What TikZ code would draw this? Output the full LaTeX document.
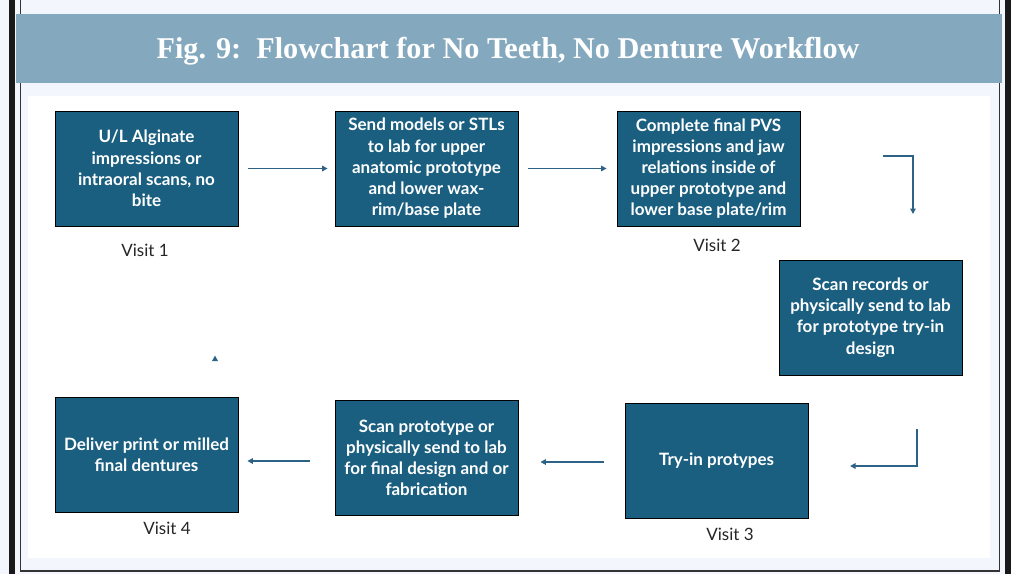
\documentclass[tikz,border=0pt]{standalone}
\usepackage{fontspec}
\setmainfont{Liberation Serif}
\newfontfamily\boxfont{Lato}
\usetikzlibrary{arrows.meta,calc}
\definecolor{pagebg}{HTML}{F3F6FD}
\definecolor{band}{HTML}{84A8BE}
\definecolor{stepfill}{HTML}{1A5F80}
\definecolor{arrowcol}{HTML}{2B6286}
\tikzset{
  stepbox/.style={draw=black, line width=0.8pt, fill=stepfill, minimum width=183pt,
    minimum height=115pt, inner sep=0pt, text=white, align=center,
    font=\boxfont\bfseries\fontsize{17}{21.2}\selectfont},
  visit/.style={font=\boxfont\fontsize{17}{18}\selectfont, text=black!85},
  flow/.style={draw=arrowcol, line width=1.9pt, -{Triangle[length=5.5pt,width=5.5pt]}},
}
\begin{document}
\begin{tikzpicture}[x=1pt,y=-1pt]
\useasboundingbox (0,0) rectangle (1011,574);
% page and frame
\fill[pagebg] (0,0) rectangle (1011,574);
\fill[black!90] (9,0) rectangle (15,574);
\fill[black!90] (1005,0) rectangle (1011,574);
\draw[black!80, line width=1.5pt] (20.5,0) -- (20.5,571) -- (999.5,571) -- (999.5,0);
% title band
\fill[band] (16,14) rectangle (1002,83);
\node[text=white, font=\bfseries\fontsize{30.2}{32}\selectfont] (title) at (508,51)
  {Fig. 9:\ \ Flowchart for No Teeth, No Denture Workflow};
\fill[white] (28,96) rectangle (990,558);
% steps
\node[stepbox] (b1) at (146.5,168.5) {U/L Alginate\\impressions or\\intraoral scans, no\\bite};
\node[stepbox] (b2) at (426.5,168.5) {Send models or STLs\\to lab for upper\\anatomic prototype\\and lower wax-\\rim/base plate};
\node[stepbox] (b3) at (708.5,168.5) {Complete final PVS\\impressions and jaw\\relations inside of\\upper prototype and\\lower base plate/rim};
\node[stepbox] (b4) at (870.5,317.5) {Scan records or\\physically send to lab\\for prototype try-in\\design};
\node[stepbox] (b5) at (716.5,460.5) {Try-in protypes};
\node[stepbox] (b6) at (426.5,458) {Scan prototype or\\physically send to lab\\for final design and or\\fabrication};
\node[stepbox] (b7) at (146.5,454.5) {Deliver print or milled\\final dentures};
% visit labels
\node[visit] (v1) at (145,250) {Visit 1};
\node[visit] (v2) at (717,245) {Visit 2};
\node[visit] (v3) at (730,534) {Visit 3};
\node[visit] (v4) at (167,528) {Visit 4};
% connectors
\draw[flow] ([xshift=10pt]b1.east) -- ([xshift=-7pt]b2.west);
\draw[flow] ([xshift=10pt]b2.east) -- ([xshift=-10pt]b3.west);
\coordinate (c3s) at (883,156);
\coordinate (c3e) at (913,214);
\draw[flow] (c3s) -| (c3e);
\coordinate (c4s) at (917,429);
\coordinate (c4e) at (850,466);
\draw[flow] (c4s) |- (c4e);
\draw[flow] ([xshift=-21pt,yshift=-1.5pt]b5.west) -- ([xshift=22pt,yshift=-4pt]b6.east);
\draw[flow] ([xshift=-25pt,yshift=-3pt]b6.west) -- ([xshift=9pt,yshift=-6.5pt]b7.east);
\coordinate (tipA) at (215,359.5);
\coordinate (tipB) at (215,355.5);
\draw[flow] (tipA) -- (tipB);
\end{tikzpicture}
\end{document}
